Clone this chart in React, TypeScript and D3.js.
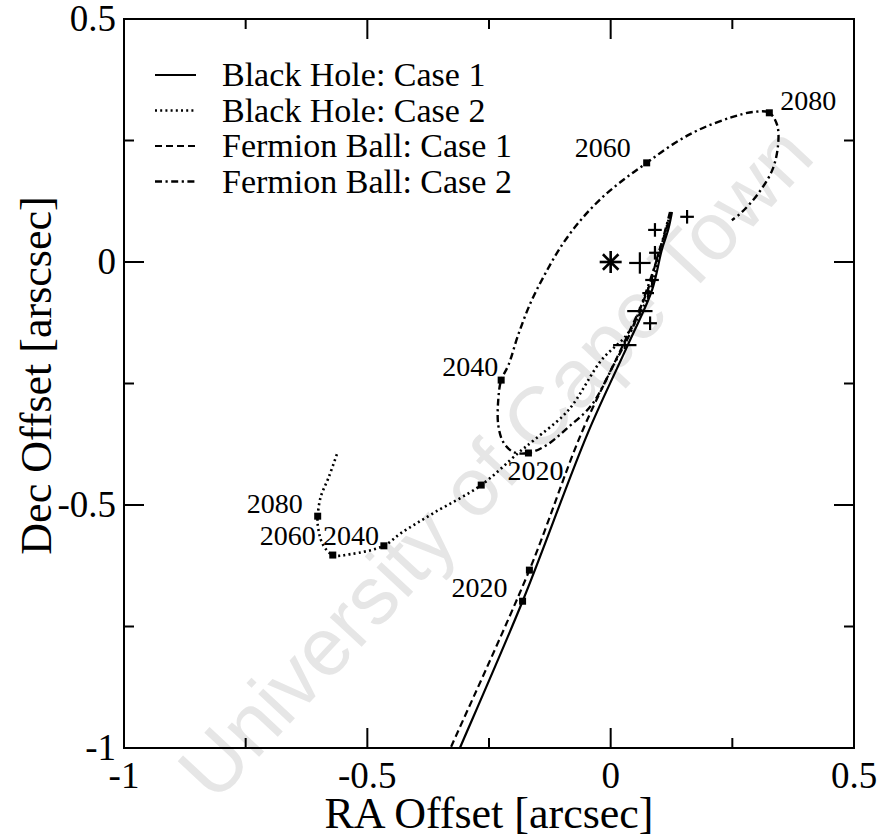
import React from "react";
import * as d3 from "d3";

// ---------- data (arcsec) ----------
const bhCase1: [number, number][] = [
  [0.126, 0.103], [0.118, 0.066], [0.105, 0.025], [0.085, -0.058], [0.037, -0.167],
  [-0.047, -0.352], [-0.181, -0.698], [-0.309, -0.998], [-0.314, -1.01],
];
const bhCase2: [number, number][] = [
  [0.122, 0.097], [0.105, 0.035], [0.085, -0.047], [0.064, -0.099], [0.033, -0.150],
  [-0.019, -0.202], [-0.087, -0.305], [-0.157, -0.366], [-0.190, -0.393], [-0.266, -0.459],
  [-0.363, -0.516], [-0.431, -0.558], [-0.466, -0.584], [-0.534, -0.601], [-0.571, -0.603],
  [-0.592, -0.580], [-0.602, -0.540], [-0.602, -0.523], [-0.596, -0.484], [-0.579, -0.442],
  [-0.561, -0.391],
];
const fbCase1: [number, number][] = [
  [0.124, 0.103], [0.113, 0.062], [0.099, 0.021], [0.076, -0.058], [0.027, -0.167],
  [-0.060, -0.352], [-0.167, -0.634], [-0.328, -0.998], [-0.333, -1.01],
];
const fbCase2: [number, number][] = [
  [0.122, 0.103], [0.101, 0.025], [0.074, -0.058], [0.043, -0.140], [0.006, -0.212],
  [-0.039, -0.294], [-0.087, -0.340], [-0.132, -0.377], [-0.169, -0.393], [-0.200, -0.391],
  [-0.221, -0.370], [-0.231, -0.335], [-0.231, -0.284], [-0.225, -0.243], [-0.210, -0.212],
  [-0.190, -0.150], [-0.165, -0.085], [-0.135, -0.025], [-0.100, 0.035], [-0.060, 0.088],
  [-0.015, 0.135], [0.030, 0.172], [0.074, 0.204], [0.126, 0.241], [0.181, 0.272],
  [0.249, 0.298], [0.295, 0.309], [0.326, 0.307], [0.342, 0.282], [0.344, 0.241],
  [0.332, 0.189], [0.301, 0.138], [0.270, 0.103], [0.249, 0.086],
];

// year markers
const bhCase1Years = [{ year: "2020", x: -0.181, y: -0.698 }];
const fbCase1Years = [{ year: "", x: -0.167, y: -0.634 }];
const bhCase2Years = [
  { year: "", x: -0.266, y: -0.459 },
  { year: "2040", x: -0.466, y: -0.584 },
  { year: "2060", x: -0.571, y: -0.603 },
  { year: "2080", x: -0.602, y: -0.523 },
];
const fbCase2Years = [
  { year: "2020", x: -0.169, y: -0.393 },
  { year: "2040", x: -0.225, y: -0.243 },
  { year: "2060", x: 0.074, y: 0.204 },
  { year: "2080", x: 0.326, y: 0.307 },
];

// observed positions (x, y, xerr, yerr)
const obsX = [0.157, 0.091, 0.060, 0.091, 0.085, 0.077, 0.060, 0.081, 0.029];
const obsY = [0.093, 0.066, -0.002, 0.019, -0.037, -0.064, -0.101, -0.126, -0.171];
const obsXErr = [0.014, 0.014, 0.022, 0.012, 0.014, 0.012, 0.026, 0.014, 0.024];
const obsYErr = [0.014, 0.014, 0.022, 0.014, 0.012, 0.012, 0.008, 0.014, 0.008];

const center = { x: 0, y: 0 };

const xMajor = [-1, -0.5, 0, 0.5];
const xMinor = [-0.75, -0.25, 0.25];
const yMajor = [-1, -0.5, 0, 0.5];
const yMinor = [-0.75, -0.25, 0.25];
const xTickLabels = ["-1", "-0.5", "0", "0.5"];
const yTickLabels = ["-1", "-0.5", "0", "0.5"];

const legendLabels = [
  "Black Hole: Case 1",
  "Black Hole: Case 2",
  "Fermion Ball: Case 1",
  "Fermion Ball: Case 2",
];

export default function App() {
  const W = 881, H = 837;
  const left = 124, right = 854, top = 19, bottom = 748;
  const x = d3.scaleLinear().domain([-1, 0.5]).range([left, right]);
  const y = d3.scaleLinear().domain([-1, 0.5]).range([bottom, top]);
  const line = d3
    .line<[number, number]>()
    .x((d) => x(d[0]))
    .y((d) => y(d[1]))
    .curve(d3.curveCatmullRom.alpha(0.5));

  const serif = "'Liberation Serif', 'Times New Roman', Times, serif";
  const styles = [
    { dash: undefined, w: 2.2 },
    { dash: "2,3.2", w: 2.6 },
    { dash: "7,4", w: 2.2 },
    { dash: "7,3.5,2.2,3.5", w: 2.4 },
  ];
  const series = [bhCase1, bhCase2, fbCase1, fbCase2];

  const sq = 7;
  const allMarkers = [...bhCase1Years, ...fbCase1Years, ...bhCase2Years, ...fbCase2Years];

  const starR = 11;
  const starAngles = [0, 45, 90, 135];

  return (
    <svg
      width={W}
      height={H}
      style={{ position: "absolute", left: 0, top: 0, background: "#fff" }}
      fontFamily={serif}
    >
      <defs>
        <clipPath id="plotclip">
          <rect x={left} y={top} width={right - left} height={bottom - top} />
        </clipPath>
      </defs>
      <rect x={0} y={0} width={W} height={H} fill="#fff" />

      {/* watermark */}
      <text
        x={495}
        y={462}
        transform={`rotate(-47, 495, 462)`}
        textAnchor="middle"
        dominantBaseline="central"
        fontFamily="'Liberation Sans', Arial, sans-serif"
        fontSize={82}
        fill="#e6e6e6"
      >
        University of Cape Town
      </text>

      {/* curves */}
      <g clipPath="url(#plotclip)">
        {series.map((s, i) => (
          <path
            key={i}
            d={line(s) || ""}
            fill="none"
            stroke="#000"
            strokeWidth={styles[i].w}
            strokeDasharray={styles[i].dash}
          />
        ))}
      </g>

      {/* year markers */}
      {allMarkers.map((m, i) => (
        <rect
          key={i}
          x={x(m.x) - sq / 2}
          y={y(m.y) - sq / 2}
          width={sq}
          height={sq}
          fill="#000"
        />
      ))}

      {/* year labels */}
      <g fontSize={28} fill="#000">
        <text x={x(-0.181) - 15} y={y(-0.698) - 4} textAnchor="end">2020</text>
        <text x={x(-0.169) + 7} y={y(-0.393) + 27} textAnchor="middle">2020</text>
        <text x={x(-0.225) - 3} y={y(-0.243) - 4} textAnchor="end">2040</text>
        <text x={x(0.074) - 16} y={y(0.204) - 6} textAnchor="end">2060</text>
        <text x={x(0.326) + 11} y={y(0.307) - 3} textAnchor="start">2080</text>
        <text x={x(-0.602) - 15} y={y(-0.523) - 3} textAnchor="end">2080</text>
        <text x={x(-0.571) - 17} y={y(-0.603) - 10} textAnchor="end">2060</text>
        <text x={x(-0.466) - 5} y={y(-0.584) - 1} textAnchor="end">2040</text>
      </g>

      {/* observations */}
      <g stroke="#000" strokeWidth={2.2}>
        {obsX.map((ox, i) => (
          <g key={i}>
            <line x1={x(ox - obsXErr[i])} x2={x(ox + obsXErr[i])} y1={y(obsY[i])} y2={y(obsY[i])} />
            <line x1={x(ox)} x2={x(ox)} y1={y(obsY[i] - obsYErr[i])} y2={y(obsY[i] + obsYErr[i])} />
          </g>
        ))}
        {starAngles.map((a, i) => {
          const r = (a * Math.PI) / 180;
          return (
            <line
              key={"s" + i}
              x1={x(center.x) - starR * Math.cos(r)}
              x2={x(center.x) + starR * Math.cos(r)}
              y1={y(center.y) - starR * Math.sin(r)}
              y2={y(center.y) + starR * Math.sin(r)}
              strokeWidth={2.6}
            />
          );
        })}
      </g>

      {/* frame */}
      <rect x={left} y={top} width={right - left} height={bottom - top} fill="none" stroke="#000" strokeWidth={2} />

      {/* ticks */}
      <g stroke="#000" strokeWidth={2}>
        {xMajor.concat(xMinor).map((v, i) => {
          const len = xMajor.includes(v) ? 20 : 10;
          return (
            <g key={"xt" + i}>
              <line x1={x(v)} x2={x(v)} y1={bottom} y2={bottom - len} />
              <line x1={x(v)} x2={x(v)} y1={top} y2={top + len} />
            </g>
          );
        })}
        {yMajor.concat(yMinor).map((v, i) => {
          const len = yMajor.includes(v) ? 20 : 10;
          return (
            <g key={"yt" + i}>
              <line x1={left} x2={left + len} y1={y(v)} y2={y(v)} />
              <line x1={right} x2={right - len} y1={y(v)} y2={y(v)} />
            </g>
          );
        })}
      </g>

      {/* tick labels */}
      <g fontSize={37} fill="#000">
        {xMajor.map((v, i) => (
          <text key={"xl" + i} x={x(v)} y={bottom + 40} textAnchor="middle">
            {xTickLabels[i]}
          </text>
        ))}
        {yMajor.map((v, i) => (
          <text key={"yl" + i} x={left - 8} y={y(v) + 12} textAnchor="end">
            {yTickLabels[i]}
          </text>
        ))}
      </g>

      {/* axis titles */}
      <text x={(left + right) / 2} y={828} textAnchor="middle" fontSize={44} fill="#000">
        RA Offset [arcsec]
      </text>
      <text
        transform={`translate(${51}, ${(top + bottom) / 2 - 8}) rotate(-90)`}
        textAnchor="middle"
        fontSize={44}
        fill="#000"
      >
        Dec Offset [arscsec]
      </text>

      {/* legend */}
      {legendLabels.map((lab, i) => {
        const ly = 75 + i * 35.5;
        return (
          <g key={"lg" + i}>
            <line
              x1={155}
              x2={196}
              y1={ly}
              y2={ly}
              stroke="#000"
              strokeWidth={styles[i].w}
              strokeDasharray={styles[i].dash}
            />
            <text x={222} y={ly + 11} fontSize={34} fill="#000">
              {lab}
            </text>
          </g>
        );
      })}
    </svg>
  );
}
